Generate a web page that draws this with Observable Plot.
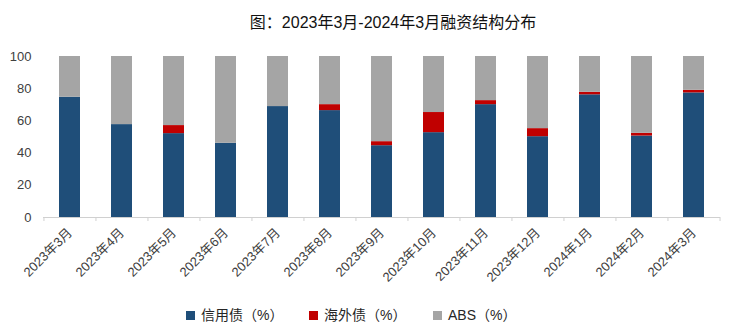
<!DOCTYPE html>
<html>
<head>
<meta charset="utf-8">
<script src="https://cdn.jsdelivr.net/npm/d3@7"></script>
<script src="https://cdn.jsdelivr.net/npm/@observablehq/plot@0.6"></script>
<style>
  html, body { margin: 0; padding: 0; background: #fff; }
  body { width: 748px; height: 336px; overflow: hidden; font-family: "Liberation Sans", "Noto Sans CJK SC", sans-serif; }
  #title { height: 38px; line-height: 46px; font-size: 16px; color: #111; text-align: center; padding-left: 38px; box-sizing: border-box; width: 748px; white-space: nowrap; }
  #legend { height: 46px; position: relative; font-size: 14px; color: #262626; }
  .item { position: absolute; top: 16px; height: 18px; line-height: 18px; white-space: nowrap; }
  .sw { display: inline-block; width: 9px; height: 9px; margin-right: 6px; vertical-align: 0px; }
</style>
</head>
<body>
<div id="title">图：2023年3月-2024年3月融资结构分布</div>
<div id="chart"></div>
<div id="legend"></div>
<script>
const months = ["2023年3月","2023年4月","2023年5月","2023年6月","2023年7月","2023年8月","2023年9月","2023年10月","2023年11月","2023年12月","2024年1月","2024年2月","2024年3月"];
const seriesNames = ["信用债（%）","海外债（%）","ABS（%）"];
const seriesColors = ["#1F4E79","#C00000","#A5A5A5"];
const creditBond = [74.7, 57.7, 52.1, 46.1, 68.9, 66.4, 44.6, 52.7, 70.1, 50.2, 76.2, 50.6, 77.4];
const overseasBond = [0, 0, 5.0, 0, 0, 3.7, 2.5, 12.5, 2.5, 5.0, 1.6, 1.7, 1.6];
const absShare = [25.3, 42.3, 42.9, 53.9, 31.1, 29.9, 52.9, 34.8, 27.4, 44.8, 22.2, 47.7, 21.0];
const yTicks = [0, 20, 40, 60, 80, 100];

const seriesValues = [creditBond, overseasBond, absShare];
const data = [];
seriesNames.forEach((s, si) => months.forEach((m, i) => data.push({month: m, series: s, value: seriesValues[si][i]})));

const W = 748, H = 252, ML = 43, MR = 28, MT = 18, MB = 73;
const step = (W - ML - MR) / months.length;

const chart = Plot.plot({
  width: W, height: H,
  marginTop: MT, marginBottom: MB, marginLeft: ML, marginRight: MR,
  style: {fontFamily: '"Liberation Sans", "Noto Sans CJK SC", sans-serif', fontSize: "13px", color: "#404040", background: "#fff"},
  x: {domain: months, paddingInner: 0.6, paddingOuter: 0.3, tickRotate: -45, tickSize: 0, tickPadding: 13, label: null},
  y: {domain: [0, 100], ticks: yTicks, tickSize: 0, tickPadding: 12, label: null},
  color: {domain: seriesNames, range: seriesColors},
  marks: [
    Plot.barY(data, {x: "month", y: "value", fill: "series", order: seriesNames}),
    Plot.ruleY([0], {stroke: "#d0d0d0"}),
    Plot.ruleX(months, {x: d => d, y1: 0, y2: 0, insetTop: 0, insetBottom: -4, dx: -step / 2, stroke: "#d0d0d0"}),
    Plot.ruleX([months[months.length - 1]], {x: d => d, y1: 0, y2: 0, insetTop: 0, insetBottom: -4, dx: step / 2, stroke: "#d0d0d0"})
  ]
});
document.getElementById("chart").appendChild(chart);

const legend = document.getElementById("legend");
const legendLeft = [186, 309, 433];
seriesNames.forEach((s, i) => {
  const it = document.createElement("div");
  it.className = "item";
  it.style.left = legendLeft[i] + "px";
  const sw = document.createElement("span");
  sw.className = "sw";
  sw.style.background = seriesColors[i];
  it.appendChild(sw);
  it.appendChild(document.createTextNode(s));
  legend.appendChild(it);
});
</script>
</body>
</html>
